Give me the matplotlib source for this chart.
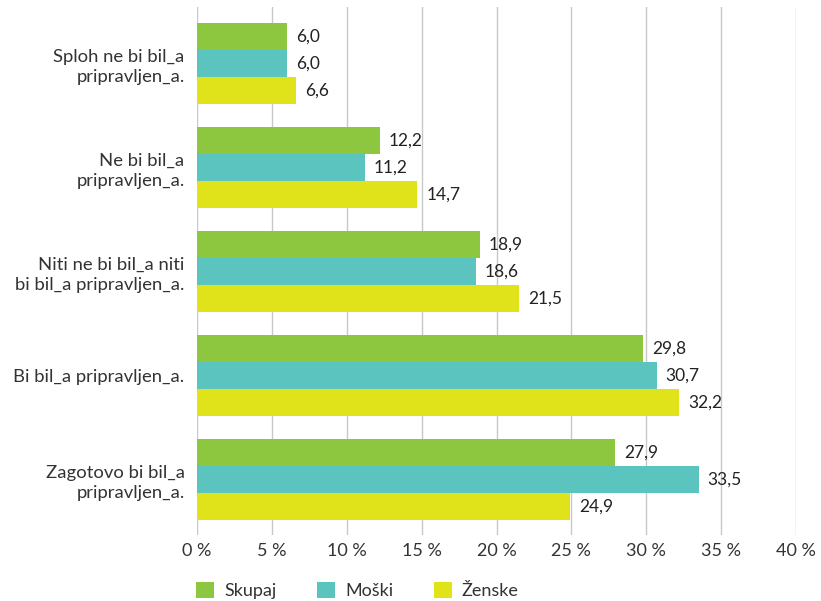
import matplotlib
matplotlib.use("Agg")
import matplotlib.pyplot as plt
import numpy as np

categories = ["Sploh ne bi bil_a\npripravljen_a.",
              "Ne bi bil_a\npripravljen_a.",
              "Niti ne bi bil_a niti\nbi bil_a pripravljen_a.",
              "Bi bil_a pripravljen_a.",
              "Zagotovo bi bil_a\npripravljen_a."]
series_names = ["Skupaj", "Moški", "Ženske"]
skupaj = [6.0, 12.2, 18.9, 29.8, 27.9]
moski = [6.0, 11.2, 18.6, 30.7, 33.5]
zenske = [6.6, 14.7, 21.5, 32.2, 24.9]
xticks = [0, 5, 10, 15, 20, 25, 30, 35, 40]

colors = ["#8DC63F", "#5BC4BF", "#E1E31A"]
plt.rcParams['font.family'] = ['Lato', 'DejaVu Sans']

W, H = 821, 601
fig = plt.figure(figsize=(W / 100, H / 100), dpi=100)
ax = fig.add_axes([197 / W, 1 - 535 / H, (796 - 197) / W, (535 - 7) / H])

y = np.arange(len(categories))
bh = 0.26
for k, (vals, name, c) in enumerate(zip([skupaj, moski, zenske], series_names, colors)):
    pos = y + (k - 1) * bh
    ax.barh(pos, vals, height=bh, color=c, label=name, zorder=3)
    for p, v in zip(pos, vals):
        ax.annotate(f"{v:.1f}".replace(".", ","), (v, p), xytext=(6.5, 0),
                    textcoords="offset points", va="center", ha="left",
                    fontsize=12.5, color="#222222", zorder=4)

ax.set_xlim(0, 40)
ax.set_ylim(4.534, -0.543)
ax.set_xticks(xticks)
ax.set_xticklabels([f"{t} %" for t in xticks], fontsize=13, color="#333333")
ax.set_yticks(y)
ax.set_yticklabels(categories, fontsize=13.3, color="#333333", linespacing=1.3)
ax.tick_params(axis="both", length=0)
ax.tick_params(axis="x", pad=6)
ax.tick_params(axis="y", pad=9)
ax.grid(axis="x", color="#c8c8c8", linewidth=1, zorder=0)
for s in ax.spines.values():
    s.set_visible(False)

fig.legend(loc="lower left", bbox_to_anchor=(180 / W, -0.024), ncol=3, frameon=False,
           fontsize=13, handlelength=1.0, handleheight=1.0, columnspacing=2.25,
           handletextpad=0.55, labelcolor="#333333")

fig.savefig("out.png", dpi=100)
